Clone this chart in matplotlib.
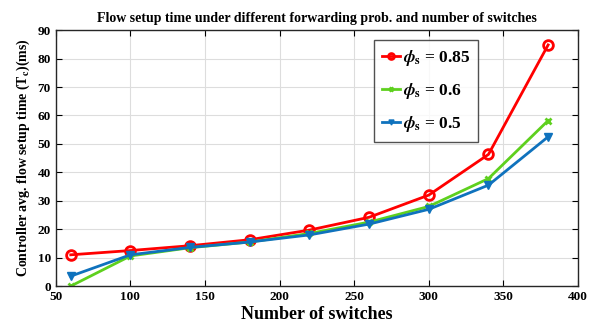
import matplotlib
matplotlib.use("Agg")
import matplotlib.pyplot as plt

# data
switches = [60, 100, 140, 180, 220, 260, 300, 340, 380]
t_085 = [11.0, 12.5, 14.2, 16.3, 19.7, 24.2, 32.0, 46.3, 84.8]
t_06 = [0.0, 10.6, 13.5, 15.5, 18.5, 22.5, 28.0, 37.8, 58.2]
t_05 = [3.5, 11.0, 13.6, 15.5, 18.0, 21.8, 27.0, 35.5, 52.5]

plt.rcParams["font.family"] = "Liberation Serif"
plt.rcParams["font.weight"] = "bold"
plt.rcParams["mathtext.fontset"] = "stix"

fig = plt.figure(figsize=(5.94, 3.24), dpi=100)
ax = fig.add_axes([0.094, 0.117, 0.879, 0.79])

ax.plot(switches, t_085, color="#ff0000", lw=2, marker="o", ms=7,
        mfc="none", mew=2, label=r"$\phi_\mathbf{s}$ = 0.85")
ax.plot(switches, t_06, color="#5ed01e", lw=2, marker="x", ms=5,
        mew=2, label=r"$\phi_\mathbf{s}$ = 0.6")
ax.plot(switches, t_05, color="#0f72bd", lw=2, marker="v", ms=6,
        label=r"$\phi_\mathbf{s}$ = 0.5")

ax.set_xlim(50, 400)
ax.set_ylim(0, 90)
ax.set_xticks(range(50, 401, 50))
ax.set_yticks(range(0, 91, 10))
ax.grid(True, color="#dddddd", lw=0.8)
ax.tick_params(direction="in", top=True, right=True, labelsize=9.5, length=4)
for lbl in ax.get_xticklabels() + ax.get_yticklabels():
    lbl.set_fontweight("bold")
for s in ax.spines.values():
    s.set_color("#262626")
    s.set_linewidth(1.0)

ax.set_title("Flow setup time under different forwarding prob. and number of switches",
             fontsize=10, fontweight="bold", pad=6)
ax.set_xlabel("Number of switches", fontsize=13, fontweight="bold", labelpad=2)
ax.set_ylabel(r"Controller avg. flow setup time (T$_\mathbf{c}$)(ms)",
              fontsize=10, fontweight="bold", labelpad=4)

leg = ax.legend(loc="upper left", bbox_to_anchor=(0.61, 0.962),
                prop={"weight": "bold", "size": 12.5}, fancybox=False,
                edgecolor="#262626", handlelength=1.0, handletextpad=0.2,
                markerscale=0.6, borderpad=0.45, labelspacing=0.75,
                borderaxespad=0)
leg.get_frame().set_linewidth(1.0)

fig.savefig("out.png", dpi=100)
